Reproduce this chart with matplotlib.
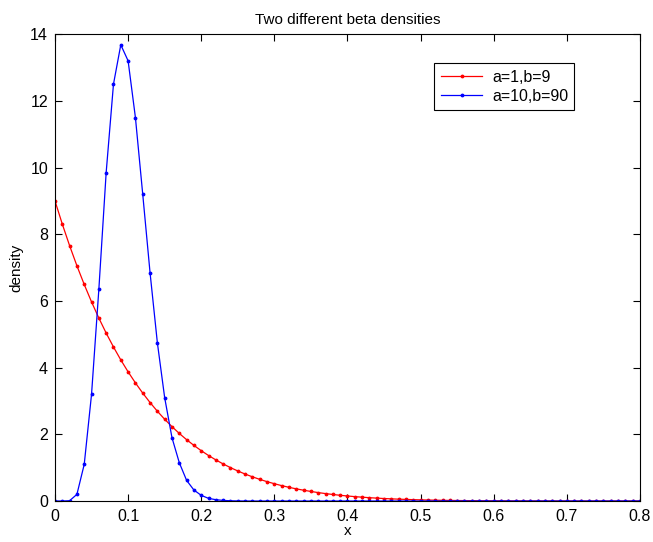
import matplotlib
matplotlib.use("Agg")
import matplotlib.pyplot as plt
import numpy as np

plt.rcParams['font.family'] = ['Liberation Sans', 'DejaVu Sans']

x = [round(i * 0.01, 2) for i in range(81)]

red = [9.000, 8.305, 7.657, 7.054, 6.493, 5.971, 5.486, 5.036, 4.619, 4.232,
       3.874, 3.543, 3.237, 2.954, 2.693, 2.452, 2.231, 2.027, 1.840, 1.668,
       1.510, 1.365, 1.233, 1.112, 1.002, 0.901, 0.809, 0.726, 0.650, 0.581,
       0.519, 0.462, 0.411, 0.365, 0.324, 0.287, 0.253, 0.223, 0.196, 0.172,
       0.151, 0.132, 0.115, 0.100, 0.087, 0.075, 0.065, 0.056, 0.048, 0.041,
       0.035, 0.030, 0.025, 0.021, 0.018, 0.015, 0.013, 0.011, 0.009, 0.007,
       0.006, 0.005, 0.004, 0.003, 0.003, 0.002, 0.002, 0.001, 0.001, 0.001,
       0.001, 0.000, 0.000, 0.000, 0.000, 0.000, 0.000, 0.000, 0.000, 0.000,
       0.000]

blue = [0.000, 0.000, 0.010, 0.200, 1.100, 3.200, 6.350, 9.850, 12.50, 13.68,
        13.20, 11.50, 9.200, 6.850, 4.750, 3.100, 1.900, 1.150, 0.620, 0.330,
        0.170, 0.080, 0.040, 0.018, 0.008, 0.003, 0.001, 0.000, 0.000, 0.000] + [0.0] * 51

labels = ['a=1,b=9', 'a=10,b=90']
title = 'Two different beta densities'

fig = plt.figure(figsize=(6.53, 5.42), dpi=100)
ax = fig.add_axes([0.0842, 0.0756, 0.8958, 0.8614])

ax.plot(x, red, color='red', marker='.', markersize=3.5, linewidth=0.9, label=labels[0])
ax.plot(x, blue, color='blue', marker='.', markersize=3.5, linewidth=0.9, label=labels[1])

ax.set_xlim(0, 0.8)
ax.set_ylim(0, 14)
ax.set_xticks(np.arange(0, 0.81, 0.1))
ax.set_xticklabels(['0', '0.1', '0.2', '0.3', '0.4', '0.5', '0.6', '0.7', '0.8'])
ax.set_yticks(range(0, 15, 2))
ax.tick_params(direction='in', top=True, right=True, labelsize=11.5, length=5)
ax.tick_params(axis='x', pad=6)
ax.tick_params(axis='y', pad=5)
ax.set_xlabel('x', fontsize=11, labelpad=0)
ax.set_ylabel('density', fontsize=11, labelpad=5)
ax.set_title(title, fontsize=11, pad=7)

leg = ax.legend(loc='upper left', bbox_to_anchor=(0.635, 0.955), fontsize=11.5,
                fancybox=False, edgecolor='black', framealpha=1,
                handlelength=2.6, handletextpad=0.6, borderpad=0.4, labelspacing=0.25)
leg.get_frame().set_linewidth(0.8)

fig.savefig('out.png', dpi=100)
